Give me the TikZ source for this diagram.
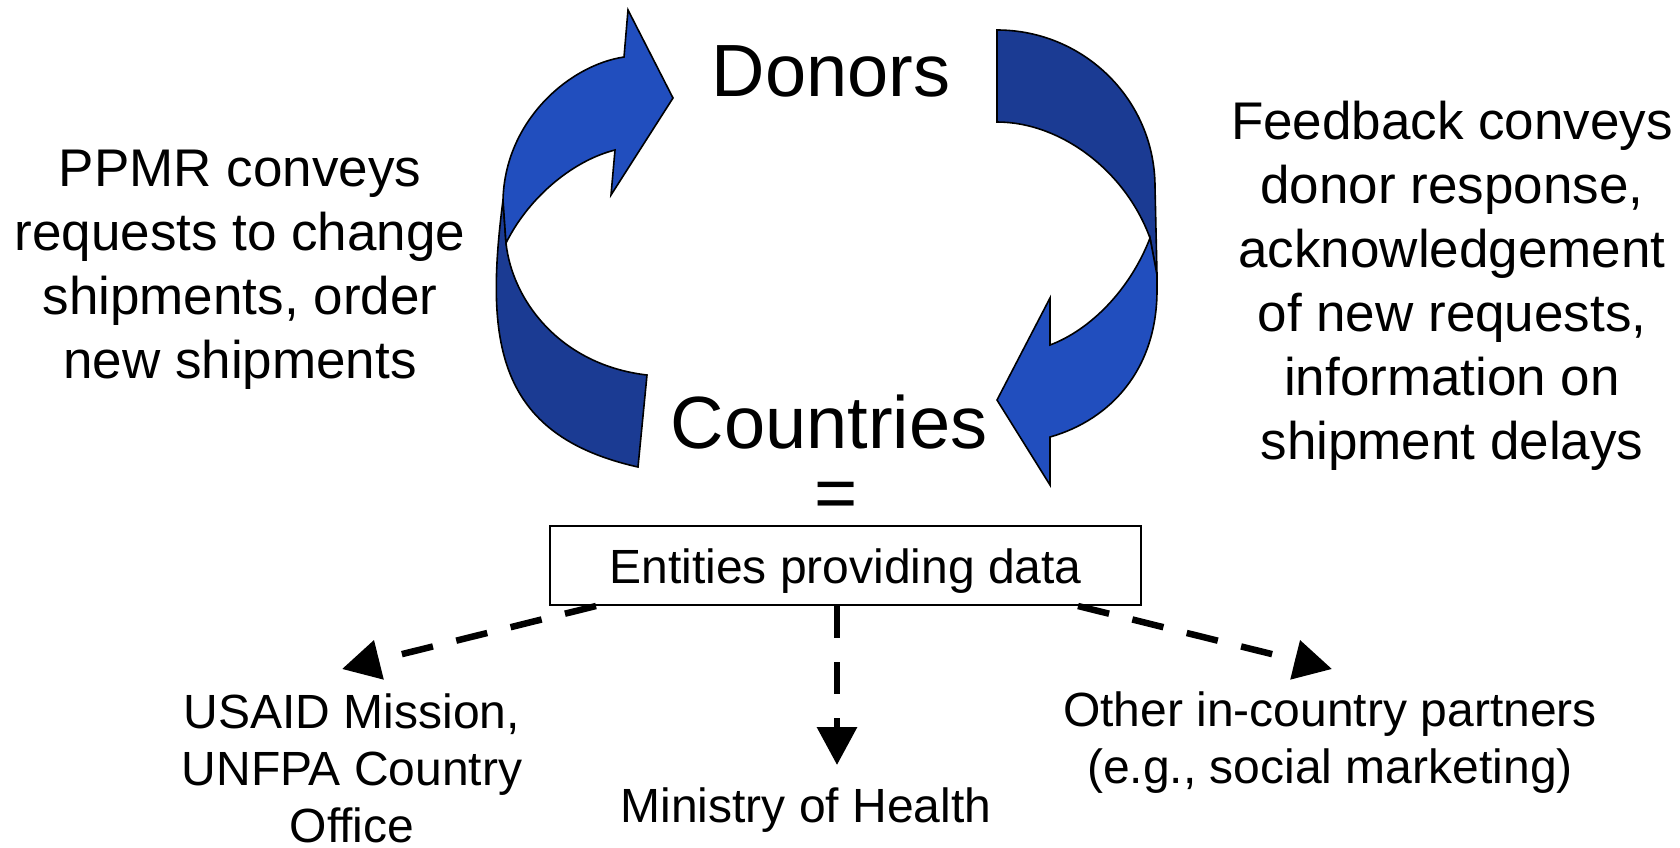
\documentclass[tikz,border=0pt]{standalone}
\usepackage{fontspec}
\setmainfont{Liberation Sans}[Ligatures=CommonOff]
\usetikzlibrary{arrows.meta,positioning}

\definecolor{ribbonlight}{RGB}{33,78,190}
\definecolor{ribbondark}{RGB}{27,59,147}

\tikzset{
  ribbon/.style={draw=black, line width=1.6pt, line join=miter},
  bigtext/.style={font=\fontsize{74}{80}\selectfont, inner sep=0pt},
  sidetext/.style={font=\fontsize{53}{64}\selectfont, align=center, inner sep=0pt},
  labeltext/.style={font=\fontsize{48}{57}\selectfont, align=center, inner sep=0pt},
  flowarrow/.style={line width=6.5pt, dash pattern=on 32pt off 24pt, -{Triangle[length=38pt,width=39pt]}}
}

\begin{document}
\begin{tikzpicture}[x=1pt, y=-1pt]

    \useasboundingbox (0,0) rectangle (1680,847);

    % left arrow, countries to donors
    \filldraw[ribbon, fill=ribbondark] (503,200) .. controls (485,340) and (495,435) .. (638,467) -- (647,375) .. controls (560,365) and (512,300) .. (506,243) -- cycle;
    \filldraw[ribbon, fill=ribbonlight] (624,57) .. controls (570,65) and (505,120) .. (503,200) -- (506,243) .. controls (530,195) and (575,160) .. (615,150) -- (611,195) -- (673,98) -- (628,10) -- cycle;

    % right arrow, donors to countries
    \filldraw[ribbon, fill=ribbondark] (997,30) .. controls (1084,30) and (1155,100) .. (1155,187) -- (1157,275) -- (1150,238) .. controls (1125,170) and (1060,122) .. (997,122) -- cycle;
    \filldraw[ribbon, fill=ribbonlight] (1150,238) -- (1157,275) -- (1157,290) .. controls (1157,370) and (1110,420) .. (1050,437) -- (1050,485) -- (997,400) -- (1050,298) -- (1050,345) .. controls (1090,330) and (1130,290) .. (1150,238) -- cycle;

    \node[bigtext, anchor=base] (donors) at (831,96) {Donors};
    \node[bigtext, anchor=base] (countries) at (829,448) {Countries};
    \node[bigtext, anchor=base] (equals) at (836,518) {=};

    \node[sidetext] (ppmr) at (240,270) {PPMR conveys\\requests to change\\shipments, order\\new shipments};
    \node[sidetext] (feedback) at (1452,286) {Feedback conveys\\donor response,\\acknowledgement\\of new requests,\\information on\\shipment delays};

    \node[draw, line width=2pt, minimum width=591pt, minimum height=79pt, text height=37pt, text depth=1pt, font=\fontsize{48}{53.5}\selectfont] (entities) at (845.5,565.5) {Entities providing data};

    \node[labeltext] (usaid) at (352,768) {USAID Mission,\\UNFPA Country\\Office};
    \node[labeltext, anchor=base] (moh) at (806,822) {Ministry of Health};
    \node[labeltext] (partners) at (1330,743) {Other in-country partners\\(e.g., social marketing)};

    \coordinate (usaidtip) at (342,669);
    \coordinate (mohtip) at (837,765);
    \coordinate (partnertip) at (1332,669);

    \draw[flowarrow] ([xshift=47pt]entities.south west) -- (usaidtip);
    \draw[flowarrow] (mohtip |- entities.south) -- (mohtip);
    \draw[flowarrow] ([xshift=-64pt]entities.south east) -- (partnertip);

\end{tikzpicture}
\end{document}
